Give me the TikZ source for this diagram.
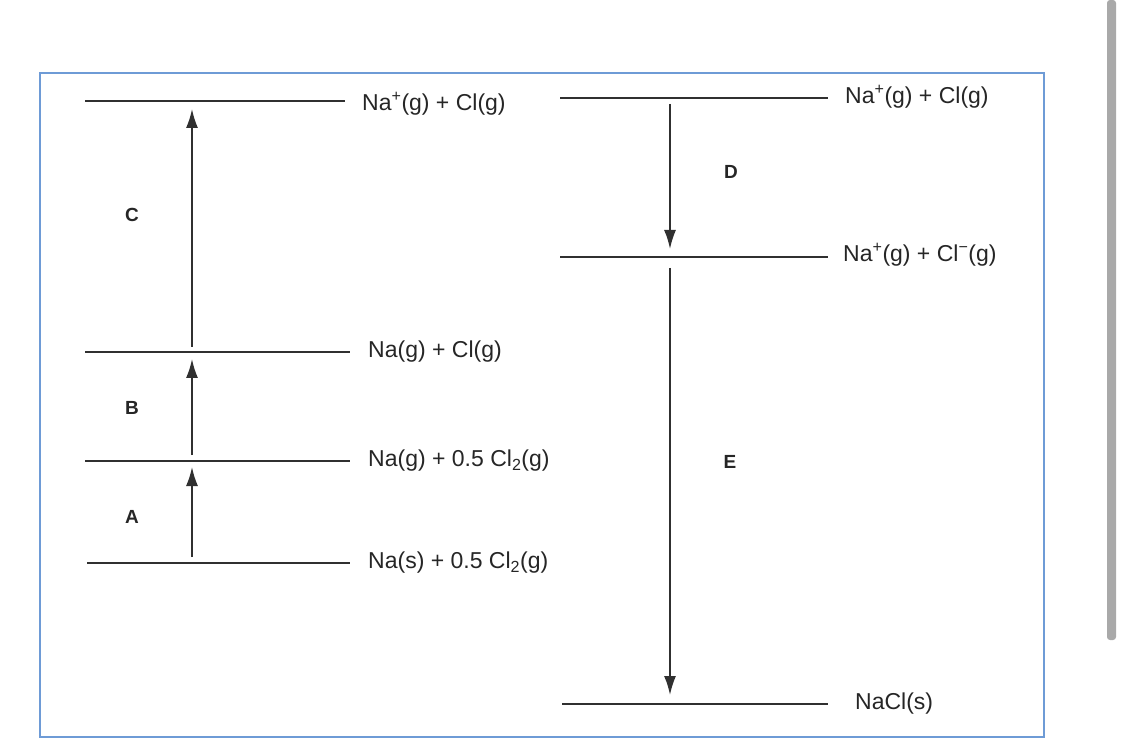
\documentclass[tikz,border=0pt]{standalone}
\usepackage{fontspec}
\setmainfont{Liberation Sans}
\usetikzlibrary{arrows.meta}
\definecolor{framecol}{HTML}{6E9BD6}
\definecolor{levcol}{HTML}{303030}
\definecolor{barcol}{HTML}{A9A9A9}
\tikzset{
  level/.style={draw=levcol, line width=2.2pt},
  trans/.style={draw=levcol, line width=1.8pt, -{Latex[length=19pt,width=12pt]}},
  spec/.style={anchor=west, inner sep=0pt, font=\fontsize{23}{26}\selectfont, text=black!85},
  letter/.style={inner sep=0pt, font=\fontsize{19}{22}\selectfont\bfseries, text=black!85}
}
\begin{document}
\begin{tikzpicture}[x=1pt,y=-1pt]
\useasboundingbox (0,0) rectangle (1125,751);
\fill[white] (0,0) rectangle (1125,751);
% scroll bar
\fill[barcol, rounded corners=3pt] (1107,0) rectangle (1116,640);
% frame
\draw[framecol, line width=2.4pt] (40,73) rectangle (1044,737);
% left levels
\coordinate (l1a) at (85,101);  \coordinate (l1b) at (345,101);
\coordinate (l2a) at (85,352);  \coordinate (l2b) at (350,352);
\coordinate (l3a) at (85,461);  \coordinate (l3b) at (350,461);
\coordinate (l4a) at (87,563);  \coordinate (l4b) at (350,563);
\draw[level] (l1a) -- (l1b);
\draw[level] (l2a) -- (l2b);
\draw[level] (l3a) -- (l3b);
\draw[level] (l4a) -- (l4b);
\node[spec] (t1) at (362,104) {Na\textsuperscript{+}(g) + Cl(g)};
\node[spec] (t2) at (368,352) {Na(g) + Cl(g)};
\node[spec] (t3) at (368,461) {Na(g) + 0.5 Cl\textsubscript{2}(g)};
\node[spec] (t4) at (368,563) {Na(s) + 0.5 Cl\textsubscript{2}(g)};
% left arrows
\coordinate (cS) at (192,347); \coordinate (cE) at (192,109);
\coordinate (bS) at (192,455); \coordinate (bE) at (192,359);
\coordinate (aS) at (192,557); \coordinate (aE) at (192,467);
\draw[trans] (cS) -- (cE);
\draw[trans] (bS) -- (bE);
\draw[trans] (aS) -- (aE);
\node[letter] (C) at (132,215) {C};
\node[letter] (B) at (132,408) {B};
\node[letter] (A) at (132,517) {A};
% right levels
\coordinate (r1a) at (560,98);  \coordinate (r1b) at (828,98);
\coordinate (r2a) at (560,257); \coordinate (r2b) at (828,257);
\coordinate (r3a) at (562,704); \coordinate (r3b) at (828,704);
\draw[level] (r1a) -- (r1b);
\draw[level] (r2a) -- (r2b);
\draw[level] (r3a) -- (r3b);
\node[spec] (s1) at (845,97) {Na\textsuperscript{+}(g) + Cl(g)};
\node[spec] (s2) at (843,255) {Na\textsuperscript{+}(g) + Cl\textsuperscript{−}(g)};
\node[spec] (s3) at (855,704) {NaCl(s)};
% right arrows
\coordinate (dS) at (670,104); \coordinate (dE) at (670,249);
\coordinate (eS) at (670,268); \coordinate (eE) at (670,695);
\draw[trans] (dS) -- (dE);
\draw[trans] (eS) -- (eE);
\node[letter] (D) at (731,172) {D};
\node[letter] (E) at (730,462) {E};
\end{tikzpicture}
\end{document}
